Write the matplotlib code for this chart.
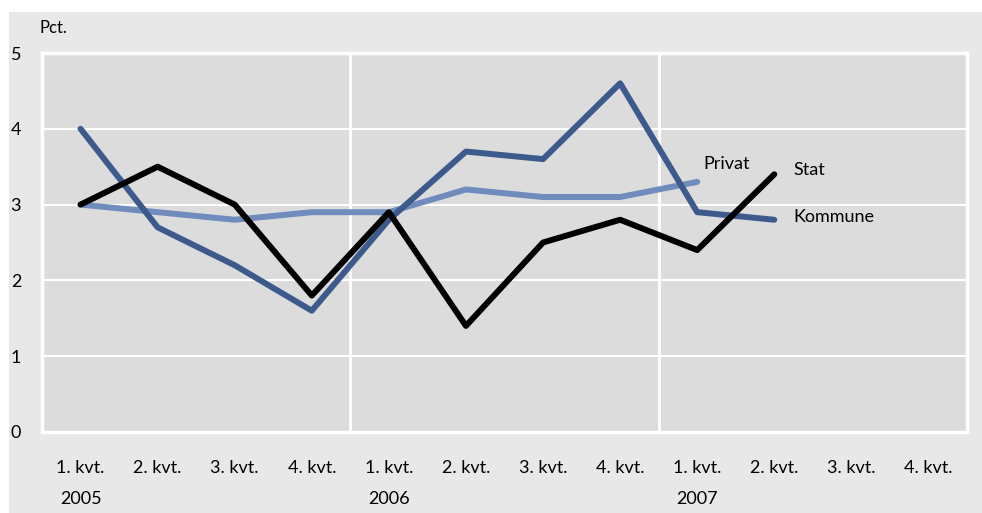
import numpy as np
import matplotlib.pyplot as plt
from matplotlib.patches import Rectangle

plt.rcParams['font.family'] = ['Lato', 'DejaVu Sans']

# Data (pct.)
quarters = ['1. kvt.', '2. kvt.', '3. kvt.', '4. kvt.'] * 3
years = ['2005', '2006', '2007']
kommune = [4.0, 2.7, 2.2, 1.6, 2.8, 3.7, 3.6, 4.6, 2.9, 2.8]
privat = [3.0, 2.9, 2.8, 2.9, 2.9, 3.2, 3.1, 3.1, 3.3]
stat = [3.0, 3.5, 3.0, 1.8, 2.9, 1.4, 2.5, 2.8, 2.4, 3.4]

fig = plt.figure(figsize=(9.82, 5.13), dpi=100)
fig.patch.set_facecolor('white')
# grey outer panel
fig.patches.append(Rectangle((9 / 982, 0), 973 / 982, 501 / 513,
                             transform=fig.transFigure, facecolor='#e8e8e8',
                             edgecolor='none', zorder=-5))

ax = fig.add_axes([42 / 982, 1 - 432 / 513, 925 / 982, 379 / 513])
ax.set_zorder(2)
ax.set_facecolor('#dcdcdc')
for s in ax.spines.values():
    s.set_color('white')
    s.set_linewidth(2.5)

x = np.arange(12)
ax.set_xlim(-0.5, 11.5)
ax.set_ylim(0, 5)

for yv in range(1, 5):
    ax.axhline(yv, color='white', lw=1.5, zorder=1)
for xv in [3.5, 7.5]:
    ax.axvline(xv, color='white', lw=2, zorder=1)

ax.plot(x[:len(privat)], privat, color='#6f8cbd', lw=4.3, zorder=3, solid_capstyle='round')
ax.plot(x[:len(kommune)], kommune, color='#3d5a8c', lw=4.3, zorder=4, solid_capstyle='round')
ax.plot(x[:len(stat)], stat, color='black', lw=4.3, zorder=5, solid_capstyle='round')

ax.text(8.08, 3.53, 'Privat', fontsize=13, va='center', ha='left')
ax.text(9.25, 3.45, 'Stat', fontsize=13, va='center', ha='left')
ax.text(9.25, 2.84, 'Kommune', fontsize=13, va='center', ha='left')

ax.set_xticks(x)
ax.set_xticklabels(quarters, fontsize=13)
ax.tick_params(axis='x', length=0, pad=20)
ax.set_yticks([0, 1, 2, 3, 4, 5])
ax.set_yticklabels(['0', '1', '2', '3', '4', '5'], fontsize=13)
ax.tick_params(axis='y', length=0, pad=15)

for i, yr in enumerate(years):
    ax.text(i * 4, -0.88, yr, fontsize=13, ha='center', va='center')

ax.text(-0.003, 1.065, 'Pct.', transform=ax.transAxes, fontsize=12, va='center', ha='left')

fig.savefig('out.png', dpi=100)
